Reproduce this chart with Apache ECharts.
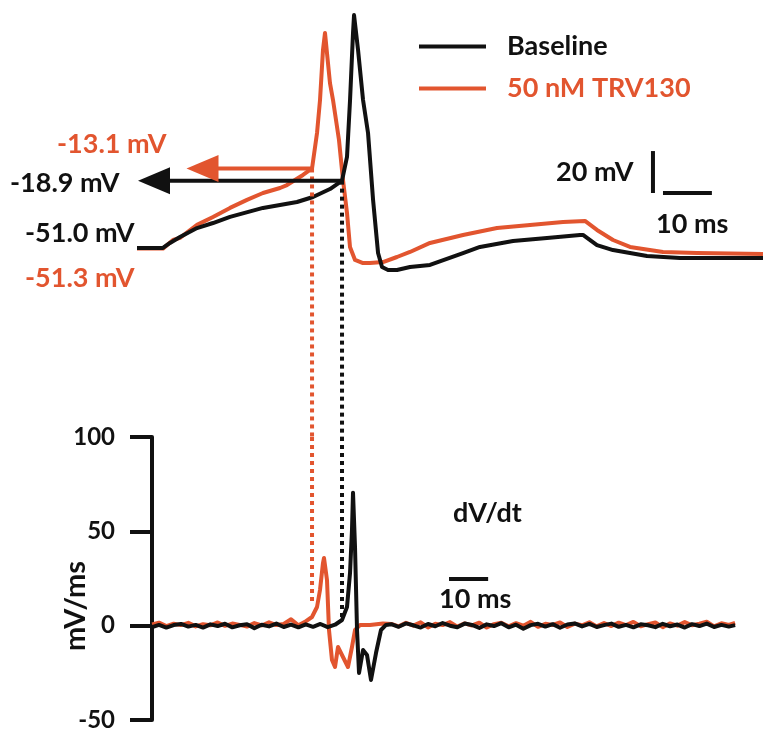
<!DOCTYPE html>
<html>
<head>
<meta charset="utf-8">
<script src="https://cdn.jsdelivr.net/npm/echarts@6/dist/echarts.min.js"></script>
<style>
  html, body { margin: 0; padding: 0; background: #fff; }
  #main { width: 763px; height: 737px; }
</style>
</head>
<body>
<div id="main"></div>
<script>
  // membrane potential, [time ms, mV]
  var baselineVm = [[0, -51.0], [5.3, -51.0], [6.75, -48.6], [8.79, -45.8], [12.27, -41.5], [15.54, -39.1],
    [19.02, -36.2], [25.76, -31.9], [32.72, -29.1], [35.99, -26.7], [39.46, -22.9], [41.51, -19.6],
    [41.92, -18.9], [42.94, -7.6], [43.56, 19.5], [44.17, 51.5], [44.38, 60.0], [45.2, 43.4],
    [46.22, 19.5], [47.24, 3.8], [48.27, -28.1], [49.29, -53.4], [50.1, -60.1], [51.33, -61.5],
    [53.16, -61.5], [55.82, -60.1], [59.91, -59.1], [66.66, -53.4], [70.13, -50.5], [76.88, -47.7],
    [83.83, -46.2], [90.58, -44.8], [91.19, -44.8], [94.05, -49.6], [97.33, -52.0], [104.28, -54.8],
    [111.03, -55.8], [117.77, -55.8], [128, -55.8]]
  var trvVm = [[0, -51.3], [5.3, -51.3], [7.36, -47.2], [8.79, -46.2], [12.27, -40.0], [15.54, -36.2],
    [19.02, -31.9], [22.49, -28.1], [25.76, -24.8], [29.24, -22.4], [30.67, -21.0], [33.94, -16.2],
    [35.79, -13.1], [36.81, 3.8], [37.42, 19.5], [38.03, 43.4], [38.44, 51.5], [39.46, 27.6],
    [40.08, 19.5], [41.3, 0.5], [42.12, -18.6], [42.94, -34.3], [43.55, -50.5], [44.58, -56.7],
    [46.21, -58.2], [47.64, -58.2], [50.3, -57.7], [53.16, -55.3], [55.82, -52.9], [59.91, -48.6],
    [66.66, -44.8], [73.61, -41.5], [80.36, -40.0], [87.11, -38.6], [91.6, -38.1], [94.05, -42.4],
    [97.33, -47.2], [100.8, -50.5], [107.55, -52.9], [114.5, -53.4], [128, -53.9]]

  // dV/dt, [time ms, mV/ms]
  var baselineDvdt = [[3.1, -0.8], [4.5, 0.4], [6, -1.0], [7.5, 0.3], [9, 0.9], [10.5, -0.5], [12, 0.4],
    [13.5, -1.0], [15, 0.7], [16.5, -0.2], [18, 1.0], [19.5, -0.9], [21, 0.2], [22.5, 0.8], [24, -1.3],
    [25.5, 0.5], [27, -0.4], [28.5, 1.1], [30, -0.7], [31.5, 0.6], [33, -0.9], [34.5, 0.7], [36, -0.6],
    [37.5, 0.9], [39, -0.8], [40.5, 0.5], [41.92, 3.0], [42.94, 9.9], [43.56, 27.9], [43.96, 50.7],
    [44.17, 70.5], [44.58, 41.7], [44.99, -2.3], [45.4, -25.1], [46.22, -12.9], [47.03, -15.5],
    [47.85, -28.8], [48.87, -14.5], [49.89, -2.3], [50.91, 0.4],
    [52, 0.8], [53.5, -0.6], [55, 1.2], [56.5, 0.2], [58, -1.0], [59.5, 0.9], [61, -0.3], [62.5, 1.4],
    [64, 0.0], [65.5, -0.8], [67, 1.1], [68.5, 0.4], [70, -1.2], [71.5, 0.7], [73, -0.2], [74.5, 1.3],
    [76, -0.9], [77.5, 0.5], [79, -1.6], [80.5, 0.3], [82, 1.0], [83.5, -0.5], [85, 0.8], [86.5, -1.1],
    [88, 0.6], [89.5, 1.2], [91, -0.4], [92.5, 0.9], [94, -0.7], [95.5, 0.3], [97, 1.1], [98.5, -0.6],
    [100, 0.4], [101.5, -0.9], [103, 0.7], [104.5, 0.2], [106, -0.8], [107.5, 1.0], [109, -0.3],
    [110.5, 0.6], [112, -1.0], [113.5, 0.8], [115, -0.2], [116.5, 1.1], [118, -0.7], [119.5, 0.4],
    [121, -0.5], [122.3, 0.3]]
  var trvDvdt = [[3.1, 0.6], [4.5, 1.6], [6, -0.2], [7.5, 1.0], [9, 0.3], [10.5, 1.5], [12, -0.4], [13.5, 0.8],
    [15, 0.2], [16.5, 1.7], [18, -0.1], [19.5, 1.1], [21, 0.4], [22.5, -0.5], [24, 1.4], [25.5, 0.1],
    [27, 1.8], [28.5, 0.3], [30, 0.9], [31.5, 3.4], [33, 0.2], [34.35, 2.0],
    [35.78, 4.6], [36.81, 9.9], [37.42, 18.9], [38.03, 33.2], [38.24, 35.9], [38.85, 24.2], [39.26, -2.3],
    [39.87, -18.2], [40.49, -21.9], [41.1, -11.3], [42.12, -16.6], [43.14, -21.9], [43.96, -11.3],
    [44.58, -2.3], [45.6, 0.3], [47.64, 0.4], [50.3, 1.2],
    [52, 0.9], [53.5, -0.4], [55, 1.5], [56.5, 0.0], [58, 1.8], [59.5, -0.9], [61, 1.0], [62.5, 0.3],
    [64, 1.9], [65.5, -0.5], [67, 1.2], [68.5, 0.1], [70, 1.6], [71.5, -1.0], [73, 0.8], [74.5, 1.5],
    [76, -0.3], [77.5, 1.3], [79, 0.0], [80.5, 2.0], [82, -0.6], [83.5, 1.0], [85, 0.4], [86.5, 1.7],
    [88, -0.7], [89.5, 1.1], [91, 0.2], [92.5, 1.8], [94, -0.4], [95.5, 1.4], [97, -0.2], [98.5, 1.6],
    [100, 0.3], [101.5, 2.0], [103, -0.3], [104.5, 0.8], [106, 1.7], [107.5, -0.8], [109, 1.2],
    [110.5, 0.0], [112, 1.9], [113.5, 0.2], [115, 1.0], [116.5, 2.1], [118, -0.4], [119.5, 1.3],
    [121, 0.4], [122.3, 1.5]]

  // threshold [time ms, mV] and where the drop line meets the dV/dt trace
  var baselineThr = [41.92, -18.9]
  var trvThr = [35.79, -13.1]
  var baselineDropEnd = 4.6
  var trvDropEnd = 11
  var baselineArrowTip = 3.48
  var trvArrowTip = 13.39

  // scale bars
  var vmBarT = 105.5, vmBarV = [-24.8, -4.8]
  var tmBarT = [107.55, 117.55], tmBarV = -24.8
  var dvdtBarT = [63.8, 71.8], dvdtBarV = 24.7

  var yTicks = { min: -50, max: 100, interval: 50 }

  var RED = '#e2552f'
  var BLACK = '#111111'
  var FONT = 'Lato'
  var LW = 4

  var chart = echarts.init(document.getElementById('main'))

  function trace (name, data, color, grid) {
    return {
      name: name, type: 'line', xAxisIndex: grid, yAxisIndex: grid,
      data: data, symbol: 'none', color: color,
      lineStyle: { color: color, width: LW, join: 'round' }
    }
  }
  function seg (name, data, color, grid, dash) {
    return {
      name: name, type: 'line', xAxisIndex: grid, yAxisIndex: grid,
      data: data, symbol: 'none', color: color, clip: false,
      lineStyle: { color: color, width: LW, type: dash ? [4, 4] : 'solid', cap: 'butt' }
    }
  }
  function arrow (name, thr, tip, color) {
    return {
      name: name, type: 'line', xAxisIndex: 0, yAxisIndex: 0, color: color,
      symbol: 'triangle', symbolSize: [27, 32], symbolRotate: 90,
      itemStyle: { color: color },
      lineStyle: { color: color, width: LW },
      data: [{ value: thr, symbol: 'none' }, { value: [tip, thr[1]] }]
    }
  }
  function txt (text, x, y, color, size) {
    return {
      type: 'text', x: x, y: y,
      style: { text: text, fill: color, font: 'bold ' + (size || 27) + 'px ' + FONT, align: 'left', verticalAlign: 'middle' }
    }
  }

  var option = {
    animation: false,
    backgroundColor: '#fff',
    grid: [
      { left: 137, top: 0, width: 626, height: 437 },
      { left: 152, top: 437, width: 611, height: 283 }
    ],
    xAxis: [
      { gridIndex: 0, type: 'value', min: 0, max: 128, show: false },
      { gridIndex: 1, type: 'value', min: 3.07, max: 128, show: false }
    ],
    yAxis: [
      { gridIndex: 0, type: 'value', min: -141.1, max: 67.2, show: false },
      {
        gridIndex: 1, type: 'value', min: yTicks.min, max: yTicks.max, interval: yTicks.interval,
        axisLine: { show: true, onZero: false, lineStyle: { color: BLACK, width: LW } },
        axisTick: { show: true, length: 22, lineStyle: { color: BLACK, width: LW } },
        axisLabel: { color: BLACK, fontFamily: FONT, fontWeight: 'bold', fontSize: 24, margin: 37 },
        splitLine: { show: false }
      }
    ],
    legend: {
      orient: 'vertical', left: 419, top: 33, padding: 0, itemWidth: 67, itemHeight: 4, itemGap: 15,
      icon: 'rect', selectedMode: false,
      data: [
        { name: 'Baseline', textStyle: { color: BLACK } },
        { name: '50 nM TRV130', textStyle: { color: RED } }
      ],
      textStyle: { fontFamily: FONT, fontWeight: 'bold', fontSize: 27, lineHeight: 27, padding: [0, 0, 0, 16] }
    },
    graphic: [
      txt('-13.1 mV', 57, 144, RED),
      txt('-18.9 mV', 10, 183, BLACK),
      txt('-51.0 mV', 25, 233, BLACK),
      txt('-51.3 mV', 25, 278, RED),
      txt('20 mV', 556, 172, BLACK),
      txt('10 ms', 656, 224, BLACK),
      txt('dV/dt', 453, 513, BLACK),
      txt('10 ms', 439, 599, BLACK),
      {
        type: 'text', x: 76, y: 606, rotation: Math.PI / 2,
        style: { text: 'mV/ms', fill: BLACK, font: 'bold 29px ' + FONT, align: 'center', verticalAlign: 'middle' }
      }
    ],
    series: [
      trace('50 nM TRV130', trvVm, RED, 0),
      trace('Baseline', baselineVm, BLACK, 0),
      seg('trv drop', [trvThr, [trvThr[0], -141.1]], RED, 0, true),
      seg('trv drop 2', [[trvThr[0], 100], [trvThr[0], trvDropEnd]], RED, 1, true),
      seg('baseline drop', [baselineThr, [baselineThr[0], -141.1]], BLACK, 0, true),
      seg('baseline drop 2', [[baselineThr[0], 100], [baselineThr[0], baselineDropEnd]], BLACK, 1, true),
      arrow('trv arrow', trvThr, trvArrowTip, RED),
      arrow('baseline arrow', baselineThr, baselineArrowTip, BLACK),
      trace('50 nM TRV130', trvDvdt, RED, 1),
      trace('Baseline', baselineDvdt, BLACK, 1),
      seg('vm bar', [[vmBarT, vmBarV[0]], [vmBarT, vmBarV[1]]], BLACK, 0, false),
      seg('time bar', [[tmBarT[0], tmBarV], [tmBarT[1], tmBarV]], BLACK, 0, false),
      seg('dvdt time bar', [[dvdtBarT[0], dvdtBarV], [dvdtBarT[1], dvdtBarV]], BLACK, 1, false)
    ]
  }
  chart.setOption(option)
</script>
</body>
</html>
